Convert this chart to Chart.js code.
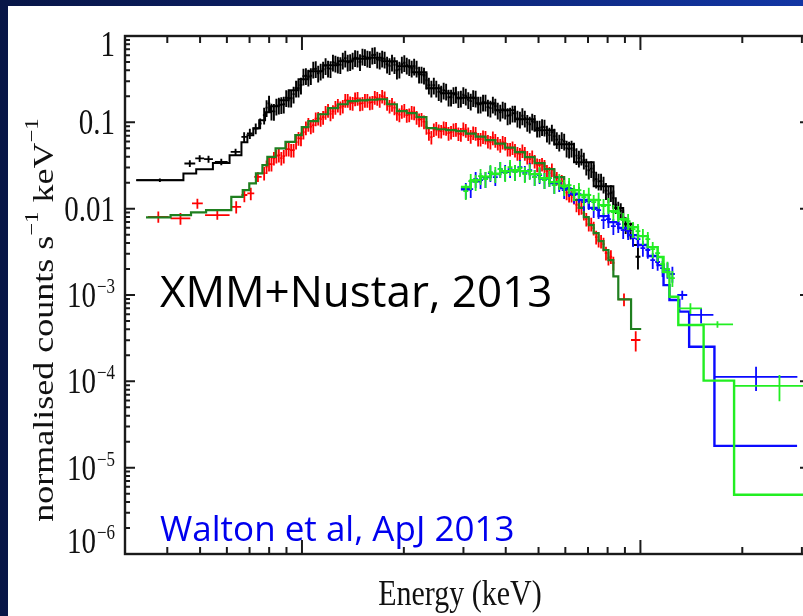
<!DOCTYPE html>
<html>
<head>
<meta charset="utf-8">
<title>XMM+Nustar spectrum</title>
<script src="https://cdn.jsdelivr.net/npm/chart.js@4.4.1/dist/chart.umd.min.js"></script>
<style>
  html, body { margin: 0; padding: 0; }
  body {
    width: 803px; height: 616px; overflow: hidden; position: relative;
    background: linear-gradient(90deg, #081647 0%, #0b1f66 40%, #1236a4 100%);
  }
  #sheet { position: absolute; left: 8px; top: 6px; right: -40px; bottom: -40px; background: #fff; }
  #spectrum { position: absolute; left: 0; top: 0; }
  .note { position: absolute; font-family: "Open Sans", sans-serif; white-space: nowrap; line-height: 1; }
  #label-obs { left: 160px; top: 268px; font-size: 44px; color: #000; }
  #label-ref { left: 160px; top: 510px; font-size: 35px; color: #0000ee; }
</style>
</head>
<body>
<div id="sheet"></div>
<canvas id="spectrum" width="830" height="616"></canvas>
<div class="note" id="label-obs">XMM+Nustar, 2013</div>
<div class="note" id="label-ref">Walton et al, ApJ 2013</div>
<script>
// axis ranges
const energyMin = 0.3236, energyMax = 31.7;   // keV
const rateMin = 1e-6, rateMax = 1;            // normalised counts s^-1 keV^-1

const xMajorTicks = [1, 10];
const xMinorTicks = [0.4, 0.5, 0.6, 0.7, 0.8, 0.9, 2, 3, 4, 5, 6, 7, 8, 9, 20, 30];
const yTickValues = [1, 0.1, 0.01, 1e-3, 1e-4, 1e-5, 1e-6];
const yTickBase = ['1', '0.1', '0.01', '10', '10', '10', '10'];
const yTickExp = ['', '', '', '\u22123', '\u22124', '\u22125', '\u22126'];

// --- XMM channels (shared energy grid for pn / MOS), keV ---
const xmmGridEnergy = [
  0.7731, 0.7862, 0.7991, 0.8126, 0.8263, 0.8402, 0.8545, 0.8689, 0.8835, 0.8984,
  0.9137, 0.9291, 0.9447, 0.9606, 0.9768, 0.9933, 1.0101, 1.0272, 1.0445, 1.0621,
  1.0800, 1.0982, 1.1167, 1.1356, 1.1548, 1.1743, 1.1940, 1.2142, 1.2346, 1.2554,
  1.2767, 1.2983, 1.3201, 1.3424, 1.3651, 1.3881, 1.4115, 1.4353, 1.4596, 1.4842,
  1.5093, 1.5348, 1.5607, 1.5870, 1.6139, 1.6411, 1.6688, 1.6970, 1.7257, 1.7548,
  1.7844, 1.8145, 1.8452, 1.8763, 1.9079, 1.9401, 1.9729, 2.0062, 2.0400, 2.0744,
  2.1095, 2.1451, 2.1813, 2.2181, 2.2556, 2.2937, 2.3323, 2.3717, 2.4117, 2.4524,
  2.4938, 2.5359, 2.5787, 2.6222, 2.6664, 2.7114, 2.7572, 2.8037, 2.8510, 2.8991,
  2.9481, 2.9979, 3.0484, 3.0999, 3.1522, 3.2054, 3.2594, 3.3144, 3.3704, 3.4273,
  3.4851, 3.5439, 3.6037, 3.6645, 3.7263, 3.7892, 3.8532, 3.9182, 3.9843, 4.0516,
  4.1199, 4.1894, 4.2601, 4.3320, 4.4051, 4.4795, 4.5550, 4.6319, 4.7101, 4.7896,
  4.8697, 4.9519, 5.0355, 5.1205, 5.2069, 5.2948, 5.3841, 5.4750, 5.5674, 5.6614,
  5.7568, 5.8540, 5.9528, 6.0533, 6.1554, 6.2593, 6.3649, 6.4723, 6.5815, 6.6926,
  6.8055, 6.9204, 7.0370, 7.1558, 7.2766, 7.3994, 7.5242, 7.6512, 7.7803, 7.9116,
  8.0451, 8.1809, 8.3189, 8.4593, 8.6020, 8.7472, 8.8948, 9.0449, 9.1975, 9.3527,
  9.5106
];
const blackRate = [
  0.121, 0.148, 0.166, 0.1345, 0.134, 0.154, 0.158, 0.160, 0.162, 0.193,
  0.190, 0.190, 0.212, 0.248, 0.248, 0.269, 0.342, 0.346, 0.333, 0.346,
  0.412, 0.417, 0.370, 0.390, 0.412, 0.452, 0.423, 0.417, 0.496, 0.483,
  0.471, 0.464, 0.523, 0.552, 0.496, 0.503, 0.523, 0.560, 0.552, 0.503,
  0.582, 0.575, 0.552, 0.545, 0.598, 0.606, 0.538, 0.523, 0.552, 0.538,
  0.471, 0.452, 0.496, 0.464, 0.401, 0.412, 0.471, 0.490, 0.458, 0.440,
  0.423, 0.446, 0.423, 0.360, 0.360, 0.351, 0.307, 0.269, 0.248, 0.269,
  0.248, 0.226, 0.217, 0.235, 0.229, 0.195, 0.195, 0.209, 0.212, 0.188,
  0.190, 0.209, 0.201, 0.183, 0.176, 0.193, 0.190, 0.162, 0.162, 0.171,
  0.171, 0.150, 0.146, 0.162, 0.154, 0.138, 0.131, 0.142, 0.138, 0.119,
  0.121, 0.1275, 0.1275, 0.112, 0.1087, 0.119, 0.112, 0.100, 0.0951, 0.103,
  0.100, 0.0855, 0.0855, 0.089, 0.0878, 0.0748, 0.0710, 0.0769, 0.0691, 0.0630,
  0.0589, 0.0630, 0.0605, 0.0502, 0.0489, 0.0502, 0.0476, 0.0411, 0.0385, 0.0406,
  0.0365, 0.0311, 0.0279, 0.0291, 0.0265, 0.0220, 0.0208, 0.0208, 0.0192, 0.0162,
  0.0147, 0.0153, 0.0133, 0.0111, 0.00988, 0.0095, 0.00799, 0.00654, 0.00596, 0.00565,
  0.00481
];
const redRate = [
  0.0258, 0.0307, 0.0328, 0.0328, 0.0385, 0.0406, 0.0417, 0.0385, 0.0406, 0.0489,
  0.0489, 0.0476, 0.0476, 0.0589, 0.0655, 0.0646, 0.0769, 0.0867, 0.0951, 0.0890,
  0.0926, 0.1102, 0.112, 0.1087, 0.1147, 0.131, 0.138, 0.1258, 0.134, 0.1497,
  0.158, 0.1477, 0.154, 0.180, 0.180, 0.1688, 0.1665, 0.1877, 0.190, 0.1643,
  0.1665, 0.180, 0.180, 0.1688, 0.171, 0.1953, 0.190, 0.180, 0.201, 0.1928,
  0.1665, 0.154, 0.162, 0.1477, 0.1275, 0.1225, 0.134, 0.138, 0.121, 0.1225,
  0.131, 0.1292, 0.1147, 0.1073, 0.1087, 0.1017, 0.0878, 0.0748, 0.0673, 0.0822,
  0.0855, 0.0800, 0.0790, 0.0867, 0.0855, 0.0748, 0.0769, 0.0822, 0.0832, 0.0739,
  0.0729, 0.0844, 0.0811, 0.0739, 0.0691, 0.0759, 0.0748, 0.0638, 0.0638, 0.0682,
  0.0673, 0.0605, 0.0589, 0.0664, 0.0621, 0.0574, 0.0543, 0.0589, 0.0574, 0.0489,
  0.0489, 0.0509, 0.0476, 0.0439, 0.0428, 0.0470, 0.0439, 0.0395, 0.0375, 0.0400,
  0.0355, 0.0323, 0.0319, 0.0328, 0.0311, 0.0272, 0.0258, 0.0283, 0.0244, 0.0226,
  0.0203, 0.0208, 0.0192, 0.0153, 0.0144, 0.0144, 0.0136, 0.0111, 0.0102, 0.0104,
  0.00888, 0.00757, 0.00663, 0.00663, 0.00596, 0.00469, 0.00433, 0.00421, 0.00389, 0.00306,
  0.00268, 0.00279, 0.00235
];

// wide (grouped) XMM bins: low edge, high edge, rate, 1-sigma error
const blackBinLo = [0.324, 0.4494, 0.4838, 0.5139, 0.5530, 0.6156, 0.6623, 0.6876, 0.7155, 0.7450, 9.672];
const blackBinHi = [0.4464, 0.4838, 0.5139, 0.5456, 0.6033, 0.6581, 0.6876, 0.7155, 0.7450, 0.7601, 10.0];
const blackBinRate = [0.0214, 0.0334, 0.0382, 0.0375, 0.0348, 0.0455, 0.0678, 0.0743, 0.0848, 0.0970, 0.00277];
const blackBinErr = [0.0010, 0.0030, 0.0035, 0.0035, 0.0030, 0.0040, 0.0090, 0.0100, 0.0120, 0.0140, 0.0008];

const redBinLo = [0.3508, 0.4091, 0.4732, 0.5172, 0.6182, 0.6623, 0.6895, 0.7228, 8.60, 9.38];
const redBinHi = [0.4037, 0.4679, 0.5093, 0.6111, 0.6611, 0.6895, 0.7228, 0.7601, 9.30, 10.0];
const redBinRate = [0.00805, 0.00772, 0.0115, 0.00842, 0.0105, 0.0144, 0.0150, 0.0234, 0.000891, 0.000301];
const redBinErr = [0.0012, 0.0012, 0.0015, 0.0010, 0.0017, 0.0025, 0.0025, 0.0030, 0.00015, 0.00008];

// --- NuSTAR channels (FPMA blue / FPMB green) ---
const nustarGridEnergy = [
  3.0484, 3.1522, 3.2594, 3.3704, 3.4851, 3.6037, 3.7263, 3.8532, 3.9843,
  4.1199, 4.2601, 4.4051, 4.5550, 4.7101, 4.8697, 5.0355, 5.2069, 5.3841, 5.5674,
  5.7568, 5.9528, 6.1554, 6.3649, 6.5815, 6.8055, 7.0370, 7.2766, 7.5242, 7.7803,
  8.0451, 8.3189, 8.6020, 8.8948, 9.1975, 9.5106,
  9.834, 10.169, 10.515, 10.873, 11.243, 11.626, 12.022, 12.431
];
const blueRate = [
  0.0164, 0.0168, 0.0220, 0.0214, 0.0220, 0.0258, 0.0232, 0.0287, 0.0265,
  0.0287, 0.0265, 0.0303, 0.0258, 0.0279, 0.0232, 0.0244, 0.0214, 0.0226, 0.0187,
  0.0198, 0.0164, 0.0173, 0.0144, 0.0147, 0.0119, 0.0122, 0.00988, 0.00962, 0.00737,
  0.00757, 0.00628, 0.00663, 0.00565, 0.00550, 0.00456,
  0.00444, 0.00350, 0.00332, 0.00254, 0.00241, 0.00205, 0.00195, 0.00175
];
const greenRate = [
  0.0160, 0.0208, 0.0203, 0.0238, 0.0220, 0.0265, 0.0251, 0.0287, 0.0258,
  0.0303, 0.0265, 0.0295, 0.0251, 0.0272, 0.0232, 0.0251, 0.0214, 0.0226, 0.0187,
  0.0208, 0.0178, 0.0187, 0.0155, 0.0164, 0.0136, 0.0144, 0.0119, 0.0126, 0.0107,
  0.0110, 0.00912, 0.00888, 0.00737, 0.00718, 0.00580,
  0.00550, 0.00481, 0.00444, 0.00340, 0.00306, 0.00228, 0.00200, 0.00157
];
const blueBinLo = [12.85, 13.90, 16.58];
const blueBinHi = [13.75, 16.43, 29.09];
const blueBinRate = [0.00100, 0.000587, 0.0001125];
const blueBinErr = [0.00012, 0.00012, 0.000035];

const greenBinLo = [13.00, 15.19, 18.95];
const greenBinHi = [15.19, 18.78, 35.0];
const greenBinRate = [0.000701, 0.000458, 0.0000886];
const greenBinErr = [0.00010, 0.00004, 0.00003];

// --- folded models (histograms: edges, values) ---
const blackModelEdges = [0.324, 0.4464, 0.4870, 0.5456, 0.6111, 0.6625, 0.6898, 0.7181, 0.7475, 0.7780,
  0.8099, 0.8545, 0.9137, 0.9768, 1.0445, 1.1548, 1.2767, 1.4115, 1.5607, 1.7257, 1.9079,
  2.1095, 2.3323, 2.5787, 2.8510, 3.2594, 3.7263, 4.2601, 4.8697, 5.5674, 6.3649, 7.2766,
  8.3189, 8.8948, 9.5106, 10.0];
const blackModelRate = [0.0214, 0.0256, 0.0287, 0.0337, 0.0417, 0.0589, 0.0710, 0.0855, 0.106,
  0.131, 0.154, 0.180, 0.235, 0.316, 0.390, 0.458, 0.510, 0.545, 0.560, 0.510, 0.446,
  0.380, 0.248, 0.2173, 0.1928, 0.1665, 0.138, 0.1087, 0.0811, 0.0558, 0.0346, 0.0182,
  0.0102, 0.00663, 0.00379];

const redModelEdges = [0.3461, 0.4091, 0.4701, 0.5208, 0.6183, 0.6683, 0.6988, 0.7311, 0.7641, 0.7901,
  0.8358, 0.8937, 0.9555, 0.9987, 1.0445, 1.1167, 1.1940, 1.2767, 1.3651, 1.4596, 1.5607,
  1.6688, 1.7844, 1.9079, 2.0400, 2.1813, 2.3323, 2.4938, 2.6664, 2.8510, 3.0484, 3.2594,
  3.4851, 3.7263, 3.9843, 4.2601, 4.5550, 4.8697, 5.2069, 5.5674, 5.9528, 6.3649, 6.5815,
  6.8055, 7.0370, 7.2766, 7.5242, 7.7803, 8.0451, 8.3189, 8.6020, 9.384, 10.054];
const redModelRate = [0.00792, 0.00842, 0.00905, 0.00962, 0.01372, 0.0164, 0.0196, 0.0256, 0.0319,
  0.0398, 0.0498, 0.0594, 0.0710, 0.0878, 0.1031, 0.124, 0.146, 0.162, 0.1756, 0.180,
  0.1827, 0.1851, 0.162, 0.1345, 0.1275, 0.1147, 0.0855, 0.0832, 0.0811, 0.0790, 0.0739,
  0.0682, 0.0621, 0.0566, 0.0509, 0.0451, 0.0395, 0.0337, 0.0287, 0.0232, 0.0168, 0.0126,
  0.0102, 0.00799, 0.00645, 0.00521, 0.00421, 0.00332, 0.00254, 0.00164, 0.000891, 0.000404];

const blueModelEdges = [2.9481, 3.1522, 3.3704, 3.6037, 3.8532, 4.1199, 4.4051, 4.7101, 5.0355, 5.3841,
  5.7568, 6.1554, 6.5815, 7.0370, 7.5242, 8.0451, 8.6020, 9.1975, 9.834, 10.515, 11.243,
  11.704, 12.184, 13.027, 13.931, 16.546, 29.03];
const blueModelRate = [0.0168, 0.0208, 0.0232, 0.0251, 0.0268, 0.0279, 0.0272, 0.0251, 0.0223, 0.0198,
  0.0173, 0.0149, 0.0126, 0.0102, 0.00820, 0.00699, 0.00596, 0.00494, 0.00379, 0.00283,
  0.00222, 0.00130, 0.000875, 0.000641, 0.000252, 0.0000179];

const greenModelEdges = [2.9481, 3.1522, 3.3704, 3.6037, 3.8532, 4.1199, 4.4051, 4.7101, 5.0355, 5.3841,
  5.7568, 6.1554, 6.5815, 7.0370, 7.5242, 8.0451, 8.6020, 9.1975, 9.834, 10.515, 11.243,
  11.704, 12.184, 12.940, 15.372, 18.914, 40];
const greenModelRate = [0.0178, 0.0214, 0.0235, 0.0254, 0.0272, 0.0279, 0.0272, 0.0251, 0.0226, 0.0203,
  0.0185, 0.0164, 0.0144, 0.0126, 0.0110, 0.00937, 0.00757, 0.00612, 0.00481, 0.00359,
  0.00275, 0.00185, 0.000955, 0.000450, 0.000102, 0.00000485];

// fractional 1-sigma errors of the fine channels
const blackRelErr = 0.22;
const redRelErr = 0.18;
const nustarRelErr = 0.21;

// ---------- helpers ----------
function crossPoints(lo, hi, rate, err) {
  const pts = [];
  for (let i = 0; i < rate.length; i++) {
    const c = Math.sqrt(lo[i] * hi[i]);
    pts.push({x: lo[i], y: rate[i]}, {x: hi[i], y: rate[i]}, {x: hi[i], y: null});
    pts.push({x: c, y: rate[i] - err[i]}, {x: c, y: rate[i] + err[i]}, {x: c, y: null});
  }
  return pts;
}

// channel edges half way (in log E) between neighbouring channels
function gridCrosses(energy, rate, relErr) {
  const lo = [], hi = [], err = [];
  for (let i = 0; i < rate.length; i++) {
    const e = energy[i];
    const prev = i > 0 ? energy[i - 1] : e * e / energy[i + 1];
    const next = i < energy.length - 1 ? energy[i + 1] : e * e / energy[i - 1];
    lo.push(Math.sqrt(prev * e));
    hi.push(Math.sqrt(e * next));
    err.push(rate[i] * relErr);
  }
  return crossPoints(lo, hi, rate, err);
}

function histogram(edges, rate) {
  const pts = [];
  for (let i = 0; i < rate.length; i++) {
    pts.push({x: edges[i], y: rate[i]}, {x: edges[i + 1], y: rate[i]});
  }
  return pts;
}

function series(label, points, color, width, order) {
  return {
    label: label, data: points, order: order,
    showLine: true, spanGaps: false,
    borderColor: color, backgroundColor: color, borderWidth: width,
    pointRadius: 0, pointHoverRadius: 0
  };
}

const datasets = [
  series('pn', gridCrosses(xmmGridEnergy, blackRate, blackRelErr).concat(crossPoints(blackBinLo, blackBinHi, blackBinRate, blackBinErr)), '#000000', 1.9, 7),
  series('pn model', histogram(blackModelEdges, blackModelRate), '#000000', 2, 8),
  series('MOS', gridCrosses(xmmGridEnergy, redRate, redRelErr).concat(crossPoints(redBinLo, redBinHi, redBinRate, redBinErr)), '#ff0000', 1.8, 6),
  series('MOS model', histogram(redModelEdges, redModelRate), '#1f7f1f', 2.2, 5),
  series('FPMA', gridCrosses(nustarGridEnergy, blueRate, nustarRelErr).concat(crossPoints(blueBinLo, blueBinHi, blueBinRate, blueBinErr)), '#0a0aff', 1.8, 4),
  series('FPMA model', histogram(blueModelEdges, blueModelRate), '#0a0aff', 2.4, 3),
  series('FPMB', gridCrosses(nustarGridEnergy, greenRate, nustarRelErr).concat(crossPoints(greenBinLo, greenBinHi, greenBinRate, greenBinErr)), '#22ee22', 1.8, 2),
  series('FPMB model', histogram(greenModelEdges, greenModelRate), '#22ee22', 2.4, 1)
];

// frame, inward ticks, tick labels and axis titles in the PGPLOT style
const serif = '"Liberation Serif", "DejaVu Serif", serif';
const framePlugin = {
  id: 'pgframe',
  afterDraw(chart) {
    const {ctx, chartArea: a, scales: {x, y}} = chart;
    ctx.save();
    ctx.strokeStyle = '#1a1a1a';
    ctx.lineWidth = 2.4;
    ctx.strokeRect(a.left, a.top, a.right - a.left, a.bottom - a.top);

    ctx.lineWidth = 2;
    ctx.beginPath();
    const xt = (v, len) => {
      const px = x.getPixelForValue(v);
      ctx.moveTo(px, a.bottom); ctx.lineTo(px, a.bottom - len);
      ctx.moveTo(px, a.top); ctx.lineTo(px, a.top + len);
    };
    const yt = (v, len) => {
      const py = y.getPixelForValue(v);
      ctx.moveTo(a.left, py); ctx.lineTo(a.left + len, py);
      ctx.moveTo(a.right, py); ctx.lineTo(a.right - len, py);
    };
    xMajorTicks.forEach(v => xt(v, 14));
    xMinorTicks.forEach(v => xt(v, 7));
    yTickValues.forEach(v => yt(v, 10));
    yTickValues.forEach(v => {
      for (let k = 2; k <= 9; k++) if (v * k < rateMax) yt(v * k, 5);
    });
    ctx.stroke();

    // y tick labels
    ctx.fillStyle = '#111';
    ctx.textBaseline = 'middle';
    yTickValues.forEach((v, i) => {
      const py = Math.min(Math.max(y.getPixelForValue(v) + 3, a.top + 11), a.bottom - 10);
      ctx.save();
      ctx.translate(115, py);
      ctx.scale(1, 1.2);
      let ew = 0;
      if (yTickExp[i]) {
        ctx.font = '17px ' + serif;
        ew = ctx.measureText(yTickExp[i]).width + 1;
        ctx.textAlign = 'left';
        ctx.fillText(yTickExp[i], -ew + 1, -8.5);
      }
      ctx.font = '29px ' + serif;
      ctx.textAlign = 'right';
      ctx.fillText(yTickBase[i], -ew, 0);
      ctx.restore();
    });

    // y axis title (rotated)
    const parts = [['normalised counts s', false], ['\u22121', true], [' keV', false], ['\u22121', true]];
    ctx.save();
    ctx.translate(53, 320);
    ctx.rotate(-Math.PI / 2);
    ctx.scale(1.2, 1);
    ctx.textBaseline = 'alphabetic';
    ctx.textAlign = 'left';
    let total = 0;
    parts.forEach(([t, sup]) => {
      ctx.font = (sup ? '19px ' : '30px ') + serif;
      total += ctx.measureText(t).width;
    });
    let u = -total / 2;
    parts.forEach(([t, sup]) => {
      ctx.font = (sup ? '19px ' : '30px ') + serif;
      ctx.fillText(t, u, sup ? -15 : 0);
      u += ctx.measureText(t).width;
    });
    ctx.restore();

    // x axis title
    ctx.save();
    ctx.translate(460, 605);
    ctx.scale(1, 1.2);
    ctx.font = '30px ' + serif;
    ctx.textAlign = 'center';
    ctx.textBaseline = 'alphabetic';
    ctx.fillText('Energy (keV)', 0, 0);
    ctx.restore();

    ctx.restore();
  }
};

new Chart(document.getElementById('spectrum'), {
  type: 'scatter',
  data: { datasets: datasets },
  options: {
    responsive: false,
    animation: false,
    events: [],
    layout: { padding: { left: 125, top: 36, right: 20, bottom: 62 } },
    plugins: { legend: { display: false }, tooltip: { enabled: false } },
    scales: {
      x: { type: 'logarithmic', display: false, min: energyMin, max: energyMax },
      y: { type: 'logarithmic', display: false, min: rateMin, max: rateMax }
    },
    elements: { line: { tension: 0 } }
  },
  plugins: [framePlugin]
});
</script>
</body>
</html>
